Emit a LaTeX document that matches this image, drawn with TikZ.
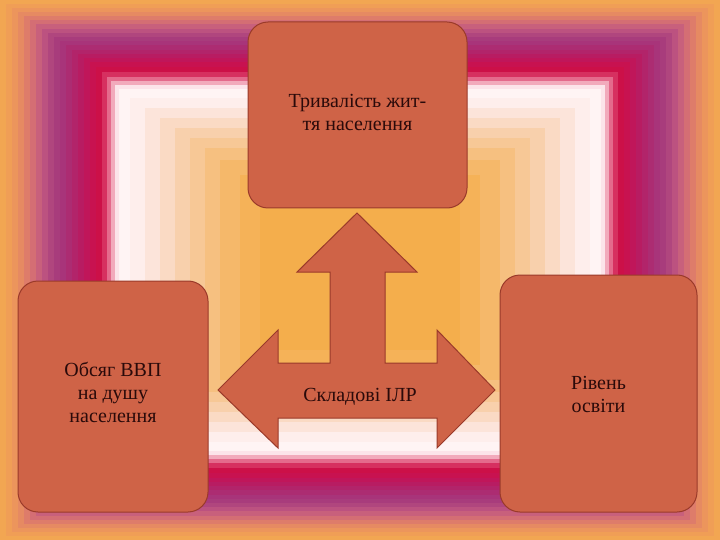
\documentclass[tikz,border=0pt]{standalone}
\usepackage{fontspec}
\setmainfont{Liberation Serif}
\newfontfamily\tnr{Liberation Serif}
\begin{document}
\begin{tikzpicture}[x=1pt,y=-1pt,
  box/.style={draw=boxline,fill=boxfill,line width=1pt,rounded corners=20pt},
  lbl/.style={text=txt,font=\tnr\fontsize{20}{23}\selectfont,align=center}]
\definecolor{boxfill}{HTML}{CF6347}
\definecolor{boxline}{HTML}{9A3A2A}
\definecolor{txt}{HTML}{2A0A0A}
\useasboundingbox (0,0) rectangle (720,540);
\foreach \ix/\iy/\c in {0/0/F2A652,6/4/F09E56,12/8/EC955C,18/12/E68A62,24/16/DE7C6A,30/20/D46E74,36/24/C8607C,42/29/BC5280,48/33/B0467E,54/37/A83C7C,60/41/A8347A,66/45/AC2C72,72/50/B2246A,78/54/B81C62,84/58/C0165A,90/62/C81250,96/67/CC1048,102/72/D63060,107/77/E46A8C,111/81/F2AABC,115/85/FCE4EA,119/89/FFF4F4,130/98/FEEEEC,145/108/FCE4DA,160/118/FADAC4,175/128/F8D0AC,190/138/F7C896,205/148/F6C080,220/160/F5B86A,240/175/F5B258,260/190/F4AE4C}{
  \definecolor{bg}{HTML}{\c}
  \fill[bg] (\ix,\iy) rectangle (720-\ix,540-\iy);
}
\node[box,minimum width=219pt,minimum height=186pt] (top) at (357.5,115) {};
\node[lbl] at (357.5,112) {Тривалість жит-\\тя населення};
\node[box,minimum width=190pt,minimum height=231pt] (left) at (113,396.5) {};
\node[lbl] at (113,392) {Обсяг ВВП\\на душу\\населення};
\node[box,minimum width=197pt,minimum height=237pt] (right) at (598.5,393.5) {};
\node[lbl] at (598.5,394) {Рівень\\освіти};
\draw[boxline,fill=boxfill,line width=1pt,line join=miter]
  (357,213) -- (417,272) -- (385,272) -- (385,363) -- (437,363) -- (437,330)
  -- (495,390) -- (437,448) -- (437,418) -- (278,418) -- (278,448)
  -- (218,390) -- (278,330) -- (278,363) -- (330,363) -- (330,272)
  -- (297,272) -- cycle;
\node[lbl] (c) at (360,397) {Складові ІЛР};
\end{tikzpicture}
\end{document}
